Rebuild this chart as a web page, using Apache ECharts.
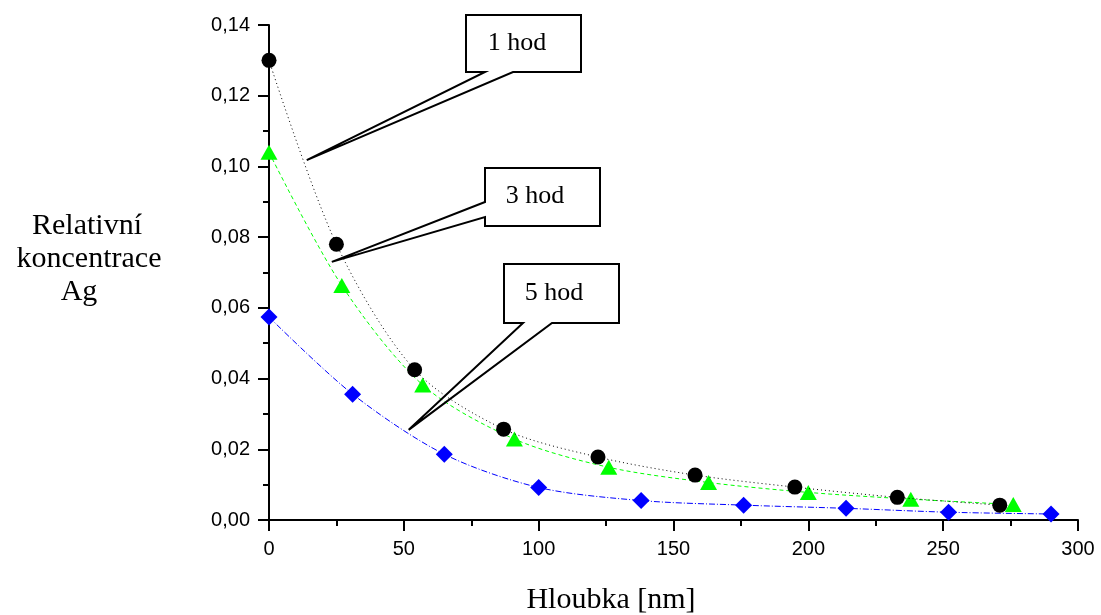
<!DOCTYPE html>
<html>
<head>
<meta charset="utf-8">
<style>
  html, body { margin: 0; padding: 0; background: #fff; }
  #chart { width: 1101px; height: 615px; }
</style>
<script src="https://cdn.jsdelivr.net/npm/echarts@6/dist/echarts.min.js"></script>
</head>
<body>
<div id="chart"></div>
<script>
// hloubka [nm] a relativni koncentrace Ag
const x1h = [0, 25, 54, 87, 122, 158, 195, 233, 271]
const y1h = [0.130, 0.078, 0.0425, 0.0257, 0.0178, 0.0127, 0.0093, 0.0064, 0.0042]
const x3h = [0, 27, 57, 91, 126, 163, 200, 238, 276]
const y3h = [0.104, 0.0663, 0.0382, 0.0229, 0.0149, 0.0106, 0.0078, 0.0059, 0.0044]
const x5h = [0, 31, 65, 100, 138, 176, 214, 252, 290]
const y5h = [0.0574, 0.0356, 0.0186, 0.0092, 0.0055, 0.0042, 0.0033, 0.0022, 0.0017]

const labels = ['1 hod', '3 hod', '5 hod']
// kam ukazuji popisky (v datovych souradnicich)
const tips = [[14, 0.1018], [23.3, 0.0730], [51.8, 0.0255]]

const serif = 'Liberation Serif'
const sans = 'Liberation Sans'

const pairs = (xs, ys) => xs.map((x, i) => [x, ys[i]])

const myChart = echarts.init(document.getElementById('chart'))

const axisCommon = {
  axisLine: { onZero: false, lineStyle: { color: '#000', width: 2 } },
  axisTick: { inside: false, length: 11, lineStyle: { color: '#000', width: 2 } },
  minorTick: { show: true, splitNumber: 2, length: 6, lineStyle: { color: '#000', width: 2 } },
  splitLine: { show: false },
  axisLabel: { color: '#000', fontFamily: sans, fontSize: 20 },
}

const option = {
  animation: false,
  backgroundColor: '#fff',
  grid: { left: 269, right: 23, top: 25, bottom: 95, containLabel: false },
  xAxis: {
    type: 'value',
    min: 0,
    max: 300,
    interval: 50,
    ...axisCommon,
    axisLabel: { ...axisCommon.axisLabel, margin: 19 },
  },
  yAxis: {
    type: 'value',
    min: 0,
    max: 0.14,
    interval: 0.02,
    ...axisCommon,
    axisLabel: {
      ...axisCommon.axisLabel,
      margin: 19,
      formatter: (v) => v.toFixed(2).replace('.', ','),
    },
  },
  series: [
    {
      name: '1 hod',
      type: 'line',
      data: pairs(x1h, y1h),
      smooth: 0.3,
      symbol: 'circle',
      symbolSize: 15,
      itemStyle: { color: '#000' },
      lineStyle: { color: '#000', width: 1, type: [1, 3] },
      z: 3,
    },
    {
      name: '3 hod',
      type: 'line',
      data: pairs(x3h, y3h),
      smooth: 0.3,
      symbol: 'triangle',
      symbolSize: [17, 15],
      itemStyle: { color: '#00ff00' },
      lineStyle: { color: '#00ff00', width: 1, type: [4, 3] },
      z: 2,
    },
    {
      name: '5 hod',
      type: 'line',
      data: pairs(x5h, y5h),
      smooth: 0.3,
      symbol: 'diamond',
      symbolSize: [17, 17],
      itemStyle: { color: '#0000ff' },
      lineStyle: { color: '#0000ff', width: 1, type: [6, 2, 1, 2] },
      z: 2,
    },
  ],
}
myChart.setOption(option)

// popisky se sipkou
const tp = tips.map((t) => myChart.convertToPixel({ gridIndex: 0 }, t))
const boxes = [
  // box, body klinu
  { x: 466, y: 15, w: 115, h: 57, text: [517, 43],
    path: (b, t) => [[b.x, b.y], [b.x + b.w, b.y], [b.x + b.w, b.y + b.h], [513, b.y + b.h], t, [485, b.y + b.h], [b.x, b.y + b.h]] },
  { x: 485, y: 168, w: 115, h: 58, text: [535, 196],
    path: (b, t) => [[b.x, b.y], [b.x + b.w, b.y], [b.x + b.w, b.y + b.h], [b.x, b.y + b.h], [b.x, 217], t, [b.x, 202]] },
  { x: 504, y: 264, w: 115, h: 59, text: [554, 293],
    path: (b, t) => [[b.x, b.y], [b.x + b.w, b.y], [b.x + b.w, b.y + b.h], [552, b.y + b.h], t, [523, b.y + b.h], [b.x, b.y + b.h]] },
]

const graphic = []
boxes.forEach((b, i) => {
  graphic.push({
    type: 'rect', z: 50,
    shape: { x: b.x, y: b.y, width: b.w, height: b.h },
    style: { fill: '#fff' },
  })
  graphic.push({
    type: 'polygon', z: 51,
    shape: { points: b.path(b, tp[i]) },
    style: { fill: null, stroke: '#000', lineWidth: 2 },
  })
  graphic.push({
    type: 'text', z: 52,
    x: b.text[0], y: b.text[1],
    style: { text: labels[i], fill: '#000', font: '26px "' + serif + '"', textAlign: 'center', textVerticalAlign: 'middle' },
  })
})

// popisky os
const yName = [['Relativní', 87, 226], ['koncentrace', 89, 259], ['Ag', 79, 292]]
yName.forEach(([t, x, y]) => {
  graphic.push({
    type: 'text', x: x, y: y,
    style: { text: t, fill: '#000', font: '30px "' + serif + '"', textAlign: 'center', textVerticalAlign: 'middle' },
  })
})
graphic.push({
  type: 'text', x: 611, y: 600,
  style: { text: 'Hloubka [nm]', fill: '#000', font: '30px "' + serif + '"', textAlign: 'center', textVerticalAlign: 'middle' },
})

myChart.setOption({ graphic: graphic })
</script>
</body>
</html>
